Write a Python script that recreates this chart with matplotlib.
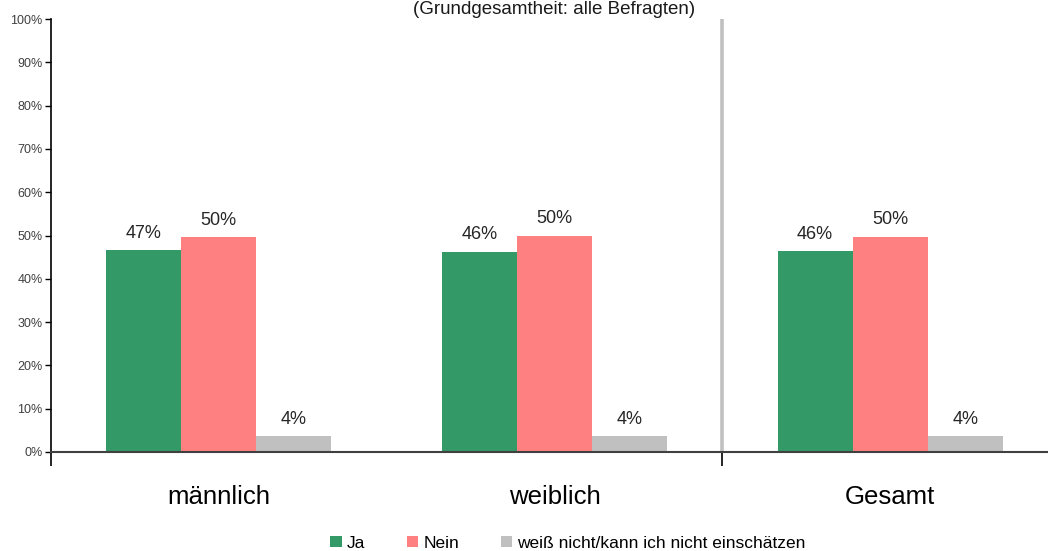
import numpy as np
import matplotlib
matplotlib.use("Agg")
import matplotlib.pyplot as plt
from matplotlib.patches import Patch

# --- data -------------------------------------------------------------------
categories = ["männlich", "weiblich", "Gesamt"]
series_names = ["Ja", "Nein", "weiß nicht/kann ich nicht einschätzen"]
ja = [46.6, 46.3, 46.4]
nein = [49.6, 50.0, 49.7]
weiss_nicht = [3.7, 3.7, 3.7]
y_ticks = [0, 10, 20, 30, 40, 50, 60, 70, 80, 90, 100]
title = "(Grundgesamtheit: alle Befragten)"

colors = ["#339966", "#FF8080", "#C0C0C0"]
narrow = ["Liberation Sans Narrow", "Liberation Sans", "DejaVu Sans"]
regular = ["Liberation Sans", "DejaVu Sans"]

fig = plt.figure(figsize=(10.48, 5.51), dpi=100)
ax = fig.add_axes([51 / 1048, 1 - 452 / 551, 1007 / 1048, 433 / 551])

x = np.arange(len(categories))
width = 0.2235
for i, (vals, col) in enumerate(zip([ja, nein, weiss_nicht], colors)):
    pos = x + (i - 1) * width
    ax.bar(pos, vals, width, color=col, zorder=2)
    for px, v in zip(pos, vals):
        ax.annotate(f"{v:.0f}%", (px, v), xytext=(0, 6), textcoords="offset points",
                    ha="center", va="bottom", fontsize=13, family=narrow,
                    color="#262626")

# separator between groups and total
ax.axvline(1.5, ymin=0, ymax=1, color="#C0C0C0", lw=2.6, zorder=1)

ax.set_xlim(-0.5, 2.5)
ax.set_ylim(0, 100)
ax.set_yticks(y_ticks)
ax.set_yticklabels([f"{t}%" for t in y_ticks], family=regular, fontsize=9,
                   color="#404040")
ax.tick_params(axis="y", direction="out", length=4, width=1, color="black", pad=2)

ax.set_xticks([-0.5, 1.5])
ax.set_xticklabels(["", ""])
ax.tick_params(axis="x", which="major", direction="out", length=10, width=1.2,
               color="black")
ax.set_xticks(x, minor=True)
ax.set_xticklabels(categories, minor=True, family=narrow, fontsize=18.5)
ax.tick_params(axis="x", which="minor", length=0, pad=24)

for side in ["top", "right"]:
    ax.spines[side].set_visible(False)
ax.spines["left"].set_color("black")
ax.spines["left"].set_linewidth(1.2)
ax.spines["bottom"].set_color("#404040")
ax.spines["bottom"].set_linewidth(1.5)
ax.spines["bottom"].set_zorder(3)

fig.text(554 / 1048, 1 - 9 / 551, title, ha="center", va="center",
         fontsize=13.5, family=narrow, color="#1a1a1a")

handles = [Patch(facecolor=c, edgecolor="none") for c in colors]
fig.legend(handles, series_names, loc="center", bbox_to_anchor=(568 / 1048, 1 - 543 / 551),
           ncol=3, frameon=False, prop={"family": narrow, "size": 12.5},
           handlelength=0.65, handleheight=0.65, handletextpad=0.3,
           columnspacing=2.4, borderaxespad=0)

fig.savefig("out.png", dpi=100)
